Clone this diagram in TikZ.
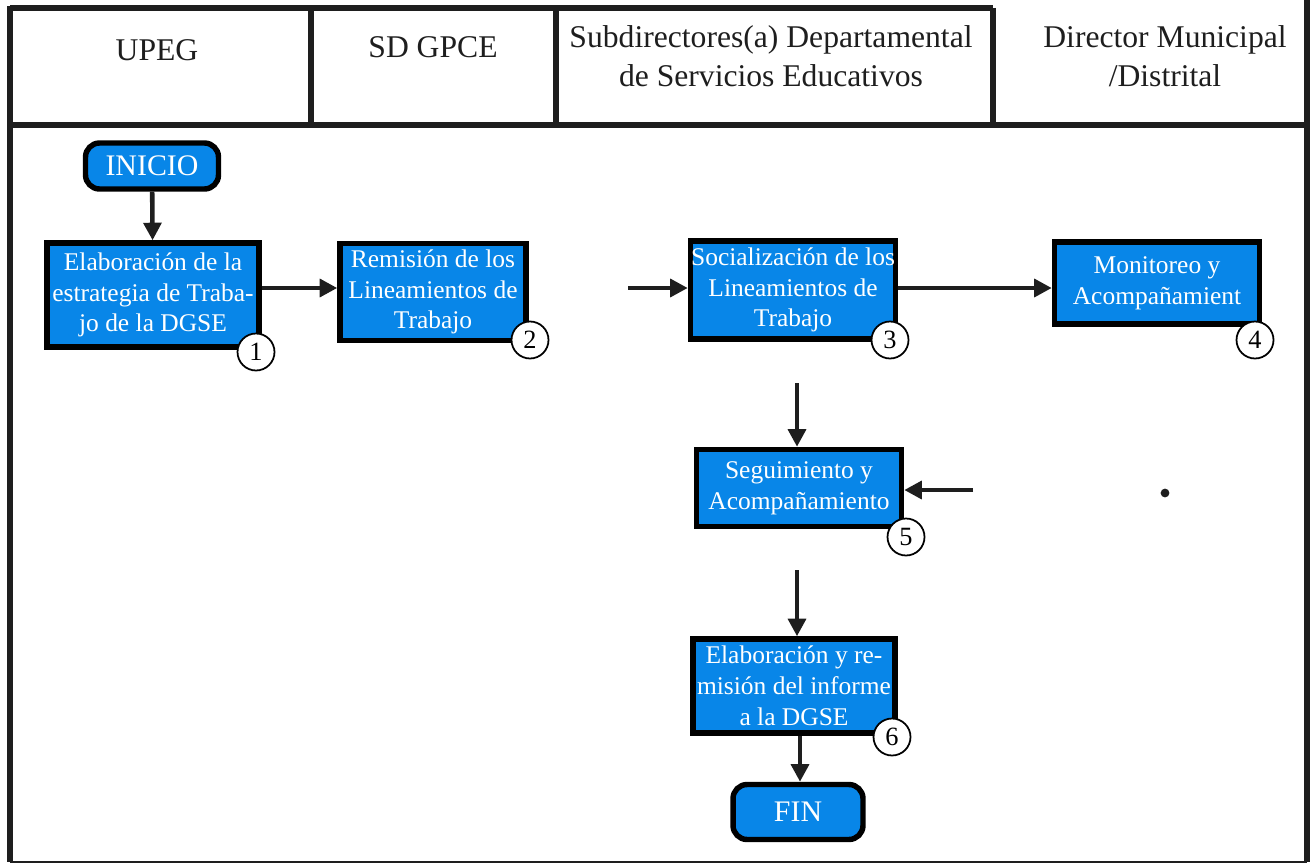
\documentclass[tikz,border=0pt]{standalone}
\usepackage{fontspec}
\setmainfont{Liberation Serif}
\usetikzlibrary{arrows.meta}
\definecolor{cajaazul}{RGB}{8,134,232}
\definecolor{tinta}{RGB}{30,30,30}

\begin{document}
\begin{tikzpicture}[x=0.02cm,y=-0.02cm,
	marco/.style={line width=3.4pt, tinta},
	titulo/.style={align=center, text=tinta, font=\fontsize{18}{22}\selectfont},
	caja/.style={draw=black, line width=3.1pt, fill=cajaazul, text=white, align=center, inner sep=0pt, font=\fontsize{14.5}{17.5}\selectfont},
	terminal/.style={caja, rounded corners=8pt, font=\fontsize{17}{20}\selectfont},
	numero/.style={circle, draw=black, line width=1pt, fill=white, minimum size=0.74cm, inner sep=0pt, font=\fontsize{15}{15}\selectfont},
	flecha/.style={line width=2.6pt, tinta, -{Triangle[length=10pt,width=10pt]}}]

	\useasboundingbox (0,0) rectangle (1310,865);

	% marco de la tabla
	\draw [marco] (10,8) -- (993,8);
	\draw [marco] (10,6) -- (10,862);
	\draw [marco] (1307,0) -- (1307,862);
	\draw [marco] (10,125) -- (1307,125);
	\draw [marco] (311,8) -- (311,125);
	\draw [marco] (556,8) -- (556,125);
	\draw [marco] (993,8) -- (993,125);
	\draw [line width=1.2pt, tinta] (10,862) -- (1307,862);

	\node [titulo] (upeg) at (157,50) {UPEG};
	\node [titulo] (sdgpce) at (433,47) {SD GPCE};
	\node [titulo] (subdir) at (771,56) {Subdirectores(a) Departamental\\de Servicios Educativos};
	\node [titulo] (director) at (1165,56) {Director Municipal\\/Distrital};

	% pasos
	\node [terminal, minimum width=2.66cm, minimum height=0.92cm] (inicio) at (152,166) {INICIO};
	\node [caja, minimum width=4.24cm, minimum height=2.08cm] (paso1) at (153,295) {Elaboración de la\\estrategia de Traba-\\jo de la DGSE};
	\node [caja, minimum width=3.72cm, minimum height=1.94cm] (paso2) at (433,292) {Remisión de los\\Lineamientos de\\Trabajo};
	\node [caja, minimum width=4.1cm, minimum height=1.96cm] (paso3) at (793,290) {Socialización de los\\Lineamientos de\\Trabajo};
	\node [caja, minimum width=4.1cm, minimum height=1.64cm] (paso4) at (1157,283) {Monitoreo y\\Acompañamient};
	\node [caja, minimum width=4.1cm, minimum height=1.54cm] (paso5) at (799,488) {Seguimiento y\\Acompañamiento};
	\node [caja, minimum width=4.04cm, minimum height=1.88cm] (paso6) at (794,686) {Elaboración y re-\\misión del informe\\a la DGSE};
	\node [terminal, minimum width=2.6cm, minimum height=1.1cm] (fin) at (798,812) {FIN};

	\node [numero] (n1) at (256,352) {1};
	\node [numero] (n2) at (530,340) {2};
	\node [numero] (n3) at (890,340) {3};
	\node [numero] (n4) at (1255,340) {4};
	\node [numero] (n5) at (906,537) {5};
	\node [numero] (n6) at (892,737) {6};

	% flechas
	\coordinate (e3) at (628,288);
	\coordinate (e5) at (797,383);
	\coordinate (d5) at (973,490);
	\coordinate (e6) at (797,570);

	\draw [flecha] (inicio) -- (paso1);
	\draw [flecha] (paso1.east |- 0,288) -- (paso2.west |- 0,288);
	\draw [flecha] (e3) -- (e3 -| paso3.west);
	\draw [flecha] (paso3.east |- 0,288) -- (paso4.west |- 0,288);
	\draw [flecha] (e5) -- (e5 |- paso5.north);
	\draw [flecha] (d5) -- (d5 -| paso5.east);
	\draw [flecha] (e6) -- (e6 |- paso6.north);
	\draw [flecha] (paso6.south -| 800,0) -- (fin.north -| 800,0);

	\fill [tinta] (1165,493) circle [radius=2.5pt];
\end{tikzpicture}
\end{document}
